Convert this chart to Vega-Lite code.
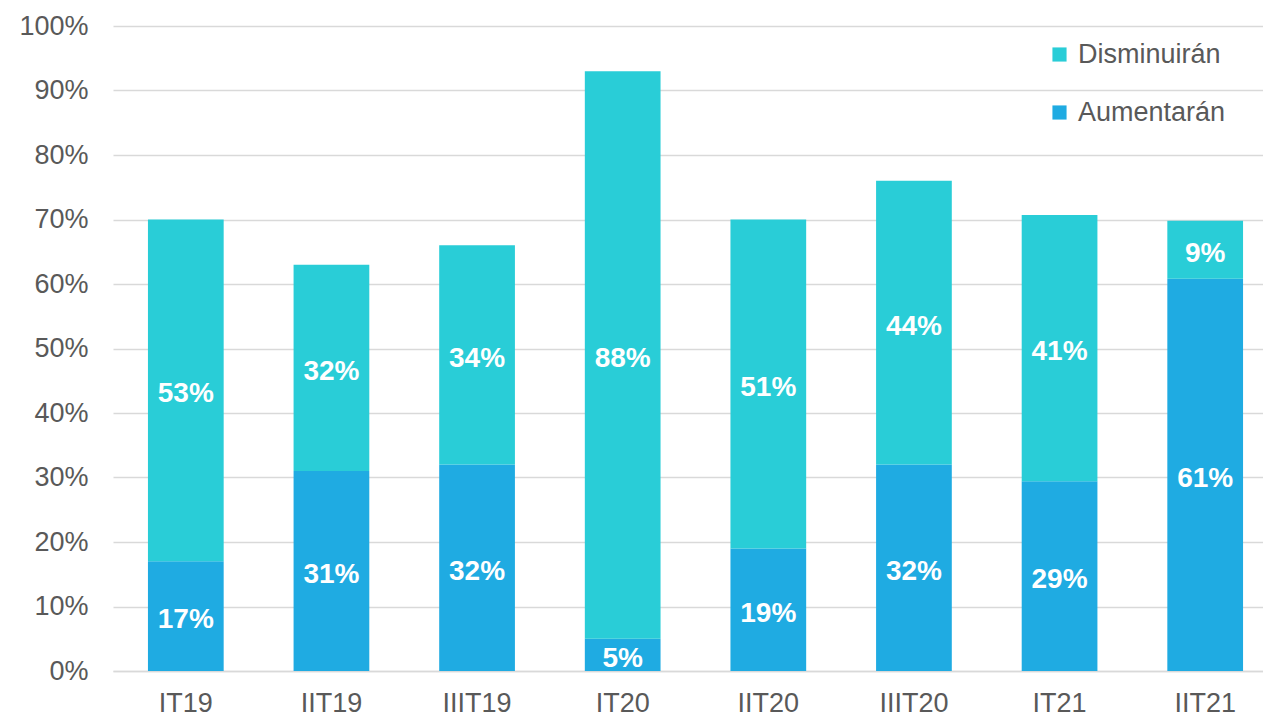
{
  "$schema": "https://vega.github.io/schema/vega-lite/v6.json",
  "autosize": "none",
  "width": 1165,
  "height": 645,
  "padding": {"left": 113, "top": 26, "right": 0, "bottom": 46},
  "background": "white",
  "config": {
    "view": {"stroke": null},
    "font": "Liberation Sans",
    "axisY": {
      "title": null,
      "format": ".0%",
      "labelOverlap": false,
      "labelFontSize": 27,
      "labelColor": "#595959",
      "labelPadding": 25,
      "ticks": false,
      "tickSize": 0,
      "domain": false,
      "gridColor": "#d9d9d9",
      "gridWidth": 1.3
    }
  },
  "data": {
    "values": [
      {"periodo": "IT19", "serie": "Aumentarán", "valor": 0.17},
      {"periodo": "IT19", "serie": "Disminuirán", "valor": 0.53},
      {"periodo": "IIT19", "serie": "Aumentarán", "valor": 0.31},
      {"periodo": "IIT19", "serie": "Disminuirán", "valor": 0.32},
      {"periodo": "IIIT19", "serie": "Aumentarán", "valor": 0.32},
      {"periodo": "IIIT19", "serie": "Disminuirán", "valor": 0.34},
      {"periodo": "IT20", "serie": "Aumentarán", "valor": 0.05},
      {"periodo": "IT20", "serie": "Disminuirán", "valor": 0.88},
      {"periodo": "IIT20", "serie": "Aumentarán", "valor": 0.19},
      {"periodo": "IIT20", "serie": "Disminuirán", "valor": 0.51},
      {"periodo": "IIIT20", "serie": "Aumentarán", "valor": 0.32},
      {"periodo": "IIIT20", "serie": "Disminuirán", "valor": 0.44},
      {"periodo": "IT21", "serie": "Aumentarán", "valor": 0.294},
      {"periodo": "IT21", "serie": "Disminuirán", "valor": 0.413},
      {"periodo": "IIT21", "serie": "Aumentarán", "valor": 0.608},
      {"periodo": "IIT21", "serie": "Disminuirán", "valor": 0.09}
    ]
  },
  "transform": [
    {"stack": "valor", "groupby": ["periodo"], "sort": [{"field": "serie", "order": "ascending"}], "as": ["v0", "v1"]},
    {"calculate": "(datum.v0 + datum.v1) / 2", "as": "vmid"}
  ],
  "encoding": {
    "x": {
      "field": "periodo",
      "type": "nominal",
      "sort": ["IT19", "IIT19", "IIIT19", "IT20", "IIT20", "IIIT20", "IT21", "IIT21"],
      "scale": {"paddingInner": 0.48, "paddingOuter": 0.24},
      "axis": {
        "title": null,
        "labelAngle": 0,
        "labelFontSize": 27,
        "labelColor": "#595959",
        "labelPadding": 19,
        "ticks": false,
        "tickSize": 0,
        "domainColor": "#d9d9d9",
        "domainWidth": 1.5,
        "grid": false
      }
    }
  },
  "layer": [
    {
      "mark": {"type": "bar"},
      "encoding": {
        "y": {
          "field": "v0",
          "type": "quantitative",
          "title": null,
          "scale": {"domain": [0, 1], "nice": false},
          "axis": {"values": [0, 0.1, 0.2, 0.3, 0.4, 0.5, 0.6, 0.7, 0.8, 0.9, 1]}
        },
        "y2": {"field": "v1"},
        "color": {
          "field": "serie",
          "type": "nominal",
          "scale": {"domain": ["Disminuirán", "Aumentarán"], "range": ["#29CDD7", "#1FABE2"]},
          "legend": {
            "title": null,
            "orient": "none",
            "legendX": 933,
            "legendY": 15,
            "symbolType": "square",
            "symbolSize": 200,
            "symbolStrokeWidth": 0,
            "labelFontSize": 27,
            "labelColor": "#595959",
            "labelOffset": 5,
            "rowPadding": 30
          }
        }
      }
    },
    {
      "mark": {"type": "text", "color": "white", "fontWeight": "bold", "fontSize": 28, "baseline": "middle", "align": "center", "dy": 4},
      "encoding": {
        "y": {
          "field": "vmid",
          "type": "quantitative",
          "title": null,
          "axis": {"values": [0, 0.1, 0.2, 0.3, 0.4, 0.5, 0.6, 0.7, 0.8, 0.9, 1]}
        },
        "text": {"field": "valor", "type": "quantitative", "format": ".0%"}
      }
    }
  ]
}
